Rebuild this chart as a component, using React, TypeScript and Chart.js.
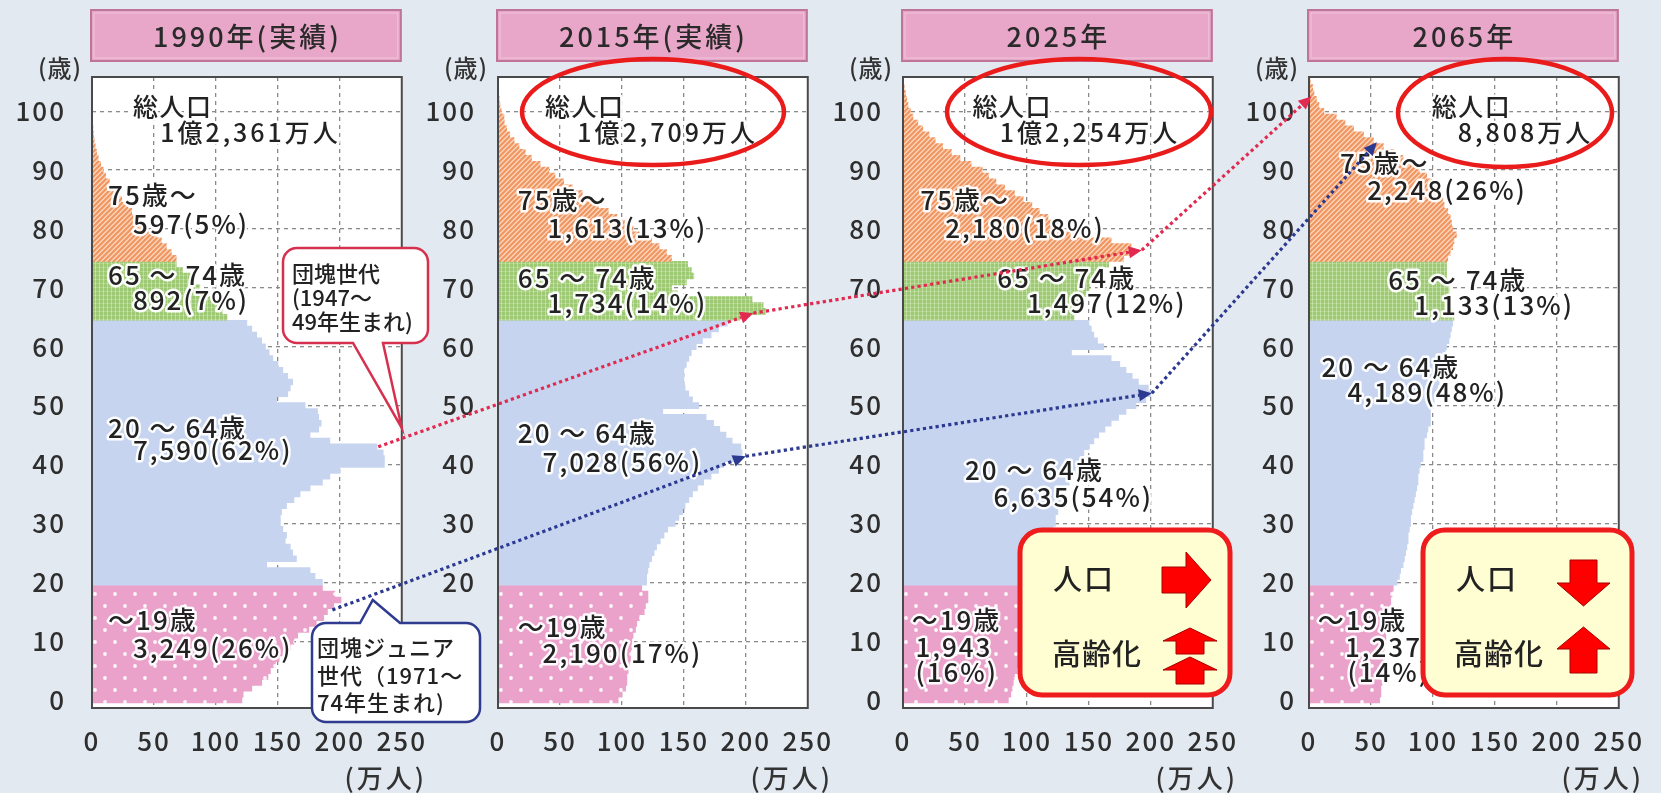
import React, { useEffect, useRef } from "react";
import { Chart, registerables } from "chart.js";

Chart.register(...registerables);

const FONT = '"Noto Sans CJK JP", "Noto Sans", sans-serif';
const BG = "#e2e9f0";

// Axis ticks
const AGE_TICKS = [0, 10, 20, 30, 40, 50, 60, 70, 80, 90, 100];
const X_TICKS = [0, 50, 100, 150, 200, 250];

// Age groups (first age of each group) and their names
const GROUP_START_AGES = [0, 20, 65, 75];
const GROUP_NAMES = ["～19歳", "20 ～ 64歳", "65 ～ 74歳", "75歳～"];

const PANEL_TITLES = ["1990年(実績)", "2015年(実績)", "2025年", "2065年"];
const TOTAL_POP = ["1億2,361万人", "1億2,709万人", "1億2,254万人", "8,808万人"];

// Group totals (万人) and shares (%): ～19, 20～64, 65～74, 75～
const GROUP_SUMS_1990 = [3249, 7590, 892, 597];
const GROUP_PCT_1990 = [26, 62, 7, 5];
const GROUP_SUMS_2015 = [2190, 7028, 1734, 1613];
const GROUP_PCT_2015 = [17, 56, 14, 13];
const GROUP_SUMS_2025 = [1943, 6635, 1497, 2180];
const GROUP_PCT_2025 = [16, 54, 12, 18];
const GROUP_SUMS_2065 = [1237, 4189, 1133, 2248];
const GROUP_PCT_2065 = [14, 48, 13, 26];

// Population by single year of age (万人); index = age
const POP_1990 = [
  121, 122, 129, 137, 142, 144, 148, 151, 155, 160,
  163, 166, 175, 181, 187, 190, 195, 201, 196, 186,
  186, 180, 176, 141, 165, 162, 160, 156, 157, 154,
  152, 152, 153, 157, 163, 168, 176, 186, 192, 200,
  236, 236, 235, 230, 192, 176, 183, 185, 183, 182,
  172, 149, 158, 160, 162, 158, 154, 150, 146, 143,
  140, 137, 133, 129, 125, 109, 105, 101, 96, 91,
  87, 83, 79, 73, 68, 68, 64, 60, 56, 52,
  44, 39, 35, 32, 29, 24, 20, 17, 14, 11,
  9, 7, 5, 3.7, 2.6, 1.8, 1.2, 0.8, 0.5, 0.3,
  0.3,
];
const POP_2015 = [
  97, 100, 103, 104, 104, 105, 106, 107, 107, 108,
  108, 109, 111, 112, 114, 118, 119, 121, 121, 116,
  120, 120, 121, 122, 124, 126, 128, 131, 134, 137,
  143, 146, 149, 151, 154, 157, 161, 166, 172, 178,
  182, 190, 197, 196, 189, 184, 179, 174, 168, 133,
  162, 157, 154, 151, 150, 150, 150, 152, 154, 156,
  160, 165, 172, 178, 185, 195, 216, 214, 205, 145,
  140, 152, 158, 156, 153, 140, 136, 130, 124, 118,
  109, 102, 96, 89, 81, 75, 68, 60, 53, 46,
  41, 34, 27, 22, 17, 13, 9.5, 7, 5, 4.8,
  2.5, 1.6, 1, 0.6,
];
const POP_2025 = [
  85, 87, 88, 89, 90, 92, 93, 95, 96, 97,
  99, 100, 101, 102, 103, 104, 104, 105, 106, 107,
  111, 113, 115, 117, 117, 118, 120, 120, 121, 121,
  123, 123, 125, 127, 127, 128, 131, 134, 137, 139,
  141, 143, 146, 150, 154, 158, 163, 168, 174, 180,
  188, 196, 200, 198, 190, 185, 180, 175, 168, 136,
  162, 157, 154, 152, 150, 138, 140, 143, 146, 148,
  150, 152, 155, 159, 166, 178, 186, 184, 168, 135,
  125, 125, 117, 110, 104, 97, 90, 82, 75, 69,
  64, 55, 46, 39, 32, 26, 21, 16, 12, 8,
  6, 4, 3, 2, 1,
];
const POP_2065 = [
  57, 58, 58, 59, 59, 60, 59, 60, 60, 61,
  62, 62, 63, 63, 64, 65, 66, 66, 67, 68,
  71, 73, 74, 76, 77, 78, 79, 80, 80, 81,
  82, 82, 83, 84, 85, 86, 87, 88, 88, 89,
  90, 92, 92, 93, 93, 95, 96, 98, 98, 98,
  100, 101, 102, 104, 105, 106, 107, 108, 109, 110,
  111, 113, 114, 115, 116, 117, 116, 115, 114, 113,
  113, 112, 111, 111, 111, 112, 114, 116, 117, 119,
  116, 115, 114, 112, 109, 108, 106, 103, 99, 95,
  89, 83, 76, 68, 60, 52, 44, 36, 29, 22,
  12, 8, 6, 4, 3, 1,
];

// Cohort tracks across the panels: [panel, 万人, 歳]
const BOOMER_TRACK = [[0, 231, 43], [1, 206, 65.7], [2, 192.7, 76.4], [3, 2, 102.5]];
const JUNIOR_TRACK = [[0, 194, 15.3], [1, 200, 41.4], [2, 200.8, 52.1], [3, 54.8, 94.7]];

const PANELS = [
  { title: PANEL_TITLES[0], pop: POP_1990, total: TOTAL_POP[0], sums: GROUP_SUMS_1990, pct: GROUP_PCT_1990 },
  { title: PANEL_TITLES[1], pop: POP_2015, total: TOTAL_POP[1], sums: GROUP_SUMS_2015, pct: GROUP_PCT_2015 },
  { title: PANEL_TITLES[2], pop: POP_2025, total: TOTAL_POP[2], sums: GROUP_SUMS_2025, pct: GROUP_PCT_2025 },
  { title: PANEL_TITLES[3], pop: POP_2065, total: TOTAL_POP[3], sums: GROUP_SUMS_2065, pct: GROUP_PCT_2065 },
];

// ---- layout ----
const PLOT_LEFT = [92, 498, 903, 1309];
const Y_AXIS_W = 92;
const CANVAS_W = 442;
const CANVAS_H = 793;
const PAD_TOP = 77;
const X_AXIS_H = 85;
const PAD_RIGHT = 40;
const AGE_MIN = -1.35;
const AGE_MAX = 105.8;
const Y_TICK_PAD = [26, 22, 20, 13];
const WEIGHT = 500;

// Text anchors inside each plot, in (万人, 歳) units
const TEXT_SPOTS = [
  { total: [[33, 100.8], [55, 96.3]], groups: [[[13, 13.6], [33, 8.8]], [[13, 46.2], [33, 42.4]], [[13, 72.2], [33, 67.9]], [[13, 85.7], [33, 80.8]]] },
  { total: [[38, 100.8], [64, 96.3]], groups: [[[16, 12.4], [36, 8.0]], [[16, 45.3], [36, 40.4]], [[16, 71.6], [40, 67.4]], [[16, 84.9], [40, 80.1]]] },
  { total: [[56, 100.8], [78, 96.3]], groups: [[[7, 13.6], [10, 9.0], [10, 4.8]], [[50, 39.0], [73, 34.5]], [[76, 71.6], [100, 67.4]], [[14, 84.9], [34, 80.1]]] },
  { total: [[99, 100.8], [120, 96.3]], groups: [[[7, 13.6], [29, 9.0], [31, 4.8]], [[10, 56.5], [31, 52.3]], [[64, 71.3], [85, 67.1]], [[25, 91.2], [47, 86.6]]] },
];

const fmt = (n: number) => n.toLocaleString("en-US");

function groupOf(age: number) {
  let g = 0;
  for (let i = 0; i < GROUP_START_AGES.length; i++) if (age >= GROUP_START_AGES[i]) g = i;
  return g;
}

function makePattern(ctx: CanvasRenderingContext2D, w: number, h: number, paint: (g: CanvasRenderingContext2D) => void) {
  const c = document.createElement("canvas");
  c.width = w;
  c.height = h;
  const g = c.getContext("2d")!;
  paint(g);
  return ctx.createPattern(c, "repeat")!;
}

function groupFills(ctx: CanvasRenderingContext2D) {
  const pink = makePattern(ctx, 20, 24, (g) => {
    g.fillStyle = "#eaa2ca";
    g.fillRect(0, 0, 20, 24);
    g.fillStyle = "rgba(255,255,255,0.9)";
    for (const [x, y] of [[5, 6], [15, 18]]) {
      g.beginPath();
      g.arc(x, y, 1.9, 0, Math.PI * 2);
      g.fill();
    }
  });
  const blue = "#c7d4f0";
  const green = makePattern(ctx, 4, 4, (g) => {
    g.fillStyle = "#9ec973";
    g.fillRect(0, 0, 4, 4);
    g.fillStyle = "#bddd9c";
    g.fillRect(3, 0, 1, 4);
    g.fillStyle = "rgba(255,255,255,0.22)";
    g.fillRect(0, 3, 4, 1);
  });
  const orange = makePattern(ctx, 5, 5, (g) => {
    g.fillStyle = "#fbd5bb";
    g.fillRect(0, 0, 5, 5);
    g.strokeStyle = "#f09560";
    g.lineWidth = 2.1;
    g.beginPath();
    g.moveTo(0, 5); g.lineTo(5, 0);
    g.moveTo(-1, 1); g.lineTo(1, -1);
    g.moveTo(4, 6); g.lineTo(6, 4);
    g.stroke();
  });
  return [pink, blue, green, orange];
}

function haloText(ctx: any, text: string, x: number, y: number, size: number, spacing: number) {
  ctx.save();
  ctx.font = `${WEIGHT} ${size}px ${FONT}`;
  ctx.letterSpacing = `${spacing}px`;
  ctx.textAlign = "left";
  ctx.textBaseline = "middle";
  ctx.lineJoin = "round";
  ctx.strokeStyle = "rgba(255,255,255,0.95)";
  ctx.lineWidth = 5;
  ctx.strokeText(text, x, y);
  ctx.fillStyle = "#222";
  ctx.fillText(text, x, y);
  ctx.restore();
}

function panelPlugin(k: number) {
  const panel = PANELS[k];
  const spots = TEXT_SPOTS[k];
  return {
    id: "panelDecor",
    beforeDraw(chart: any) {
      const { ctx, chartArea: a } = chart;
      ctx.save();
      ctx.fillStyle = "#ffffff";
      ctx.fillRect(a.left, a.top, a.right - a.left, a.bottom - a.top);
      // title box
      const bx = a.left - 2, by = 9, bw = a.right - a.left + 2, bh = 53;
      ctx.fillStyle = "#e8a6c9";
      ctx.fillRect(bx, by, bw, bh);
      ctx.strokeStyle = "#bd7699";
      ctx.lineWidth = 2;
      ctx.strokeRect(bx + 1, by + 1, bw - 2, bh - 2);
      ctx.strokeStyle = "rgba(255,255,255,0.35)";
      ctx.lineWidth = 1;
      ctx.strokeRect(bx + 4, by + 4, bw - 8, bh - 8);
      ctx.font = `${WEIGHT} 27px ${FONT}`;
      ctx.letterSpacing = "3px";
      ctx.fillStyle = "#2a2a2a";
      ctx.textAlign = "center";
      ctx.textBaseline = "middle";
      ctx.fillText(panel.title, bx + bw / 2 + 1.5, by + bh / 2 + 1);
      ctx.restore();
      ctx.letterSpacing = "2px";
    },
    afterDatasetsDraw(chart: any) {
      const { ctx, chartArea: a, scales } = chart;
      const px = (v: number) => scales.x.getPixelForValue(v);
      const py = (age: number) => scales.y.getPixelForValue(age);
      ctx.save();
      ctx.strokeStyle = "#4a4a4a";
      ctx.lineWidth = 2;
      ctx.strokeRect(a.left, a.top, a.right - a.left, a.bottom - a.top);
      ctx.restore();
      // total population
      haloText(ctx, "総人口", px(spots.total[0][0]), py(spots.total[0][1]), 25, 1.5);
      haloText(ctx, panel.total, px(spots.total[1][0]), py(spots.total[1][1]), 25, 3);
      // age group labels
      spots.groups.forEach((g: number[][], i: number) => {
        haloText(ctx, GROUP_NAMES[i], px(g[0][0]), py(g[0][1]), 26, 2);
        if (g.length === 2) {
          haloText(ctx, `${fmt(panel.sums[i])}(${panel.pct[i]}%)`, px(g[1][0]), py(g[1][1]), 26, 2);
        } else {
          haloText(ctx, fmt(panel.sums[i]), px(g[1][0]), py(g[1][1]), 26, 2);
          haloText(ctx, `(${panel.pct[i]}%)`, px(g[2][0]), py(g[2][1]), 26, 2);
        }
      });
    },
    afterDraw(chart: any) {
      const { ctx, chartArea: a } = chart;
      ctx.save();
      ctx.font = `${WEIGHT} 24px ${FONT}`;
      ctx.letterSpacing = "1px";
      ctx.fillStyle = "#333";
      ctx.textAlign = "center";
      ctx.textBaseline = "middle";
      ctx.fillText("(歳)", a.left - 32, 68);
      ctx.font = `${WEIGHT} 26px ${FONT}`;
      ctx.letterSpacing = "3px";
      ctx.fillText("(万人)", a.right - 16, 778);
      ctx.restore();
    },
  };
}

function buildChart(canvas: HTMLCanvasElement, k: number) {
  const panel = PANELS[k];
  const ctx = canvas.getContext("2d")!;
  const fills = groupFills(ctx);
  const data = panel.pop.map((v, age) => ({ x: v, y: age }));
  const tickFont = { family: FONT, size: 26, weight: WEIGHT };
  return new Chart(canvas, {
    type: "bar",
    data: {
      datasets: [
        {
          data,
          backgroundColor: (c: any) => fills[groupOf(c.raw ? c.raw.y : c.dataIndex)],
          borderWidth: 0,
          categoryPercentage: 1,
          barPercentage: 1,
        },
      ],
    },
    options: {
      indexAxis: "y",
      responsive: false,
      animation: false,
      events: [],
      devicePixelRatio: 1,
      layout: { padding: { top: PAD_TOP, right: PAD_RIGHT, left: 0, bottom: 0 } },
      plugins: { legend: { display: false }, tooltip: { enabled: false }, title: { display: false } },
      scales: {
        x: {
          type: "linear",
          min: X_TICKS[0],
          max: X_TICKS[X_TICKS.length - 1],
          afterBuildTicks: (s: any) => { s.ticks = X_TICKS.map((value) => ({ value })); },
          afterFit: (s: any) => { s.height = X_AXIS_H; },
          grid: {
            drawTicks: false,
            lineWidth: 1.3,
            color: (c: any) => (c.tick && (c.tick.value === X_TICKS[0] || c.tick.value === X_TICKS[X_TICKS.length - 1]) ? "rgba(0,0,0,0)" : "#8a8a8a"),
          },
          border: { display: false, dash: [4, 4] },
          ticks: { font: tickFont, color: "#2e2e2e", padding: 18, autoSkip: false, maxRotation: 0, callback: (v: any) => String(v) },
        },
        y: {
          type: "linear",
          min: AGE_MIN,
          max: AGE_MAX,
          offset: false,
          afterBuildTicks: (s: any) => { s.ticks = AGE_TICKS.map((value) => ({ value })); },
          afterFit: (s: any) => { s.width = Y_AXIS_W; },
          grid: {
            offset: false,
            drawTicks: false,
            lineWidth: 1.3,
            color: (c: any) => (c.tick && c.tick.value === AGE_TICKS[0] ? "rgba(0,0,0,0)" : "#8a8a8a"),
          },
          border: { display: false, dash: [4, 4] },
          ticks: { font: tickFont, color: "#2e2e2e", padding: Y_TICK_PAD[k], autoSkip: false, callback: (v: any) => String(v) },
        },
      },
    } as any,
    plugins: [panelPlugin(k)],
  } as any);
}

// ---------- overlay: cohort arrows, callouts and summary boxes ----------
function roundRect(ctx: CanvasRenderingContext2D, x0: number, y0: number, x1: number, y1: number, r: number) {
  ctx.beginPath();
  ctx.moveTo(x0 + r, y0);
  ctx.lineTo(x1 - r, y0);
  ctx.arcTo(x1, y0, x1, y0 + r, r);
  ctx.lineTo(x1, y1 - r);
  ctx.arcTo(x1, y1, x1 - r, y1, r);
  ctx.lineTo(x0 + r, y1);
  ctx.arcTo(x0, y1, x0, y1 - r, r);
  ctx.lineTo(x0, y0 + r);
  ctx.arcTo(x0, y0, x0 + r, y0, r);
  ctx.closePath();
}

function calloutPath(ctx: CanvasRenderingContext2D, x0: number, y0: number, x1: number, y1: number, r: number,
  side: string, a: number, b: number, tx: number, ty: number) {
  ctx.beginPath();
  ctx.moveTo(x0 + r, y0);
  if (side === "top") { ctx.lineTo(a, y0); ctx.lineTo(tx, ty); ctx.lineTo(b, y0); }
  ctx.lineTo(x1 - r, y0);
  ctx.arcTo(x1, y0, x1, y0 + r, r);
  ctx.lineTo(x1, y1 - r);
  ctx.arcTo(x1, y1, x1 - r, y1, r);
  if (side === "bottom") { ctx.lineTo(b, y1); ctx.lineTo(tx, ty); ctx.lineTo(a, y1); }
  ctx.lineTo(x0 + r, y1);
  ctx.arcTo(x0, y1, x0, y1 - r, r);
  ctx.lineTo(x0, y0 + r);
  ctx.arcTo(x0, y0, x0 + r, y0, r);
  ctx.closePath();
}

function dottedArrow(ctx: CanvasRenderingContext2D, p0: any, p1: any, color: string) {
  const dx = p1.x - p0.x, dy = p1.y - p0.y;
  const len = Math.hypot(dx, dy);
  const ux = dx / len, uy = dy / len;
  const head = 13, half = 6;
  const bx = p1.x - ux * head, by = p1.y - uy * head;
  ctx.save();
  ctx.strokeStyle = color;
  ctx.lineWidth = 3.2;
  ctx.setLineDash([3.2, 3.2]);
  ctx.beginPath();
  ctx.moveTo(p0.x, p0.y);
  ctx.lineTo(bx, by);
  ctx.stroke();
  ctx.setLineDash([]);
  ctx.fillStyle = color;
  ctx.beginPath();
  ctx.moveTo(p1.x, p1.y);
  ctx.lineTo(bx - uy * half, by + ux * half);
  ctx.lineTo(bx + uy * half, by - ux * half);
  ctx.closePath();
  ctx.fill();
  ctx.restore();
}

function blockArrow(ctx: CanvasRenderingContext2D, pts: number[][]) {
  ctx.beginPath();
  pts.forEach(([x, y], i) => (i ? ctx.lineTo(x, y) : ctx.moveTo(x, y)));
  ctx.closePath();
  ctx.fillStyle = "#ff0000";
  ctx.fill();
  ctx.strokeStyle = "#a80000";
  ctx.lineWidth = 1;
  ctx.stroke();
}

const upArrow = (xc: number, tip: number, base: number, bottom: number, sh: number, hh: number) => [
  [xc, tip], [xc + hh, base], [xc + sh, base], [xc + sh, bottom], [xc - sh, bottom], [xc - sh, base], [xc - hh, base],
];
const downArrow = (xc: number, top: number, base: number, tip: number, sh: number, hh: number) => [
  [xc - sh, top], [xc + sh, top], [xc + sh, base], [xc + hh, base], [xc, tip], [xc - hh, base], [xc - sh, base],
];
const rightArrow = (x0: number, xh: number, x1: number, yc: number, sh: number, hh: number) => [
  [x0, yc - sh], [xh, yc - sh], [xh, yc - hh], [x1, yc], [xh, yc + hh], [xh, yc + sh], [x0, yc + sh],
];

function drawOverlay(canvas: HTMLCanvasElement, charts: any[]) {
  const ctx: any = canvas.getContext("2d")!;
  ctx.clearRect(0, 0, canvas.width, canvas.height);
  const at = (k: number, v: number, age: number) => ({
    x: PLOT_LEFT[k] - Y_AXIS_W + charts[k].scales.x.getPixelForValue(v),
    y: charts[k].scales.y.getPixelForValue(age),
  });
  const text = (t: string, x: number, y: number, size: number, spacing = 0) => {
    ctx.save();
    ctx.font = `${WEIGHT} ${size}px ${FONT}`;
    ctx.letterSpacing = `${spacing}px`;
    ctx.fillStyle = "#222";
    ctx.textAlign = "left";
    ctx.textBaseline = "middle";
    ctx.fillText(t, x, y);
    ctx.restore();
  };

  // red ellipses round the totals
  ctx.save();
  ctx.strokeStyle = "#ea1b1b";
  ctx.lineWidth = 4.5;
  for (const [cx, cy, rx, ry] of [[653, 112, 131, 53], [1079, 112, 132, 53], [1505, 113, 107, 54]]) {
    ctx.beginPath();
    ctx.ellipse(cx, cy, rx, ry, 0, 0, Math.PI * 2);
    ctx.stroke();
  }
  ctx.restore();

  // 団塊世代 callout
  const redTip = at(0, 250, 46.2);
  ctx.save();
  calloutPath(ctx, 283, 248, 428, 343, 14, "bottom", 353, 383, redTip.x, redTip.y);
  ctx.fillStyle = "#ffffff";
  ctx.fill();
  ctx.strokeStyle = "#d6304f";
  ctx.lineWidth = 2.5;
  ctx.stroke();
  ctx.restore();
  text("団塊世代", 292, 274, 22);
  text("(1947～", 292, 298, 22);
  text("49年生まれ)", 292, 322, 22);

  // 団塊ジュニア世代 callout
  const blueTip = at(0, 226.6, 17);
  ctx.save();
  calloutPath(ctx, 312, 623, 480, 722, 14, "top", 360, 400, blueTip.x, blueTip.y);
  ctx.fillStyle = "#ffffff";
  ctx.fill();
  ctx.strokeStyle = "#2e3b8e";
  ctx.lineWidth = 2.5;
  ctx.stroke();
  ctx.restore();
  text("団塊ジュニア", 317, 648, 22, 1);
  text("世代（1971～", 317, 676, 22, 1);
  text("74年生まれ)", 317, 703, 22, 1);

  // cohort tracks
  const track = (pts: number[][], color: string) => {
    for (let i = 0; i < pts.length - 1; i++) {
      const [k0, v0, a0] = pts[i];
      const [k1, v1, a1] = pts[i + 1];
      dottedArrow(ctx, at(k0, v0, a0), at(k1, v1, a1), color);
    }
  };
  track(BOOMER_TRACK, "#e2294f");
  track(JUNIOR_TRACK, "#2b3990");

  // summary boxes
  for (const [x0, x1] of [[1020, 1230], [1423, 1632]]) {
    ctx.save();
    roundRect(ctx, x0, 530, x1, 695, 22);
    ctx.fillStyle = "#fffdd2";
    ctx.fill();
    ctx.strokeStyle = "#ee1c1c";
    ctx.lineWidth = 5;
    ctx.stroke();
    ctx.restore();
  }
  text("人口", 1053, 579, 29, 2);
  text("高齢化", 1052, 654, 29, 1);
  text("人口", 1456, 579, 29, 2);
  text("高齢化", 1454, 654, 29, 1);
  blockArrow(ctx, rightArrow(1162, 1186, 1211, 580, 13, 28));
  blockArrow(ctx, upArrow(1190, 628, 641, 654, 14, 27));
  blockArrow(ctx, upArrow(1190, 657, 670, 684, 14, 27));
  blockArrow(ctx, downArrow(1583.5, 560, 583, 606, 13.5, 26.5));
  blockArrow(ctx, upArrow(1583.5, 627, 649, 673, 13.5, 26.5));
}

export default function App() {
  const refs = useRef<(HTMLCanvasElement | null)[]>([]);
  const overlayRef = useRef<HTMLCanvasElement | null>(null);

  useEffect(() => {
    const charts = PANELS.map((_, k) => buildChart(refs.current[k]!, k));
    drawOverlay(overlayRef.current!, charts);
    return () => charts.forEach((c) => c.destroy());
  }, []);

  return (
    <div style={{ position: "absolute", left: 0, top: 0, width: 1661, height: 793, background: BG, overflow: "hidden" }}>
      {PANELS.map((_, k) => (
        <canvas
          key={k}
          ref={(el) => { refs.current[k] = el; }}
          width={CANVAS_W}
          height={CANVAS_H}
          style={{ position: "absolute", left: PLOT_LEFT[k] - Y_AXIS_W, top: 0, width: CANVAS_W, height: CANVAS_H }}
        />
      ))}
      <canvas
        ref={overlayRef}
        width={1661}
        height={793}
        style={{ position: "absolute", left: 0, top: 0, width: 1661, height: 793 }}
      />
    </div>
  );
}
